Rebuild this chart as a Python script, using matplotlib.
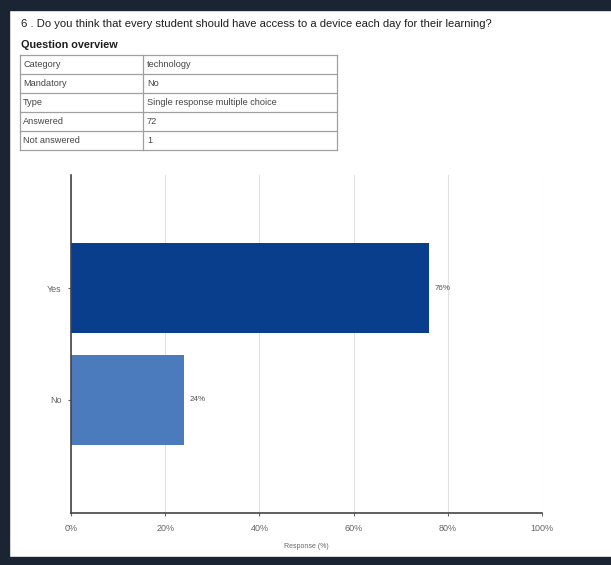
import matplotlib.pyplot as plt
from matplotlib.patches import Rectangle

plt.rcParams['font.family'] = ['Liberation Sans', 'DejaVu Sans']

TITLE = '6 . Do you think that every student should have access to a device each day for their learning?'
overview_keys = ['Category', 'Mandatory', 'Type', 'Answered', 'Not answered']
overview_vals = ['technology', 'No', 'Single response multiple choice', '72', '1']

answers = ['Yes', 'No']
percent = [76, 24]
bar_colors = ['#083e8b', '#4b7bbd']
x_ticks = [0, 20, 40, 60, 80, 100]

W, H = 611, 565
fig = plt.figure(figsize=(W / 100, H / 100), dpi=100)

def fx(px):
    return px / W

def fy(py):
    return 1 - py / H

# dark frame of the screenshot
border = '#1b2433'
fig.patches.append(Rectangle((0, fy(10)), 1, 10 / H, transform=fig.transFigure, color=border, zorder=0))
fig.patches.append(Rectangle((0, 0), fx(9), 1, transform=fig.transFigure, color=border, zorder=0))
fig.patches.append(Rectangle((0, 0), 1, 8 / H, transform=fig.transFigure, color=border, zorder=0))

fig.text(fx(21), fy(24), TITLE, fontsize=8.1, color='#1e1e1e', va='center')
fig.text(fx(21), fy(45), 'Question overview', fontsize=7.8, fontweight='bold', color='#1e1e1e', va='center')

# overview table, drawn by hand in a pixel-space axes
tab_ax = fig.add_axes([0, 0, 1, 1], zorder=1)
tab_ax.set_xlim(0, W)
tab_ax.set_ylim(H, 0)
tab_ax.axis('off')
tab_left, tab_split, tab_right = 20, 143, 337
tab_top, row_h = 55, 19
n_rows = len(overview_keys)
for i in range(n_rows + 1):
    y = tab_top + i * row_h
    tab_ax.plot([tab_left, tab_right], [y, y], color='#a0a0a0', lw=0.9)
for x in [tab_left, tab_split, tab_right]:
    tab_ax.plot([x, x], [tab_top, tab_top + n_rows * row_h], color='#a0a0a0', lw=0.9)
for i, (k, v) in enumerate(zip(overview_keys, overview_vals)):
    yc = tab_top + i * row_h + row_h / 2
    tab_ax.text(tab_left + 3, yc, k, fontsize=6.6, color='#444444', va='center')
    tab_ax.text(tab_split + 4, yc, v, fontsize=6.6, color='#444444', va='center')

# bar chart
ax = fig.add_axes([fx(71), fy(513), fx(542) - fx(71), (513 - 175) / H])
ypos = list(range(len(answers)))
ax.barh(ypos, percent, height=0.8, color=bar_colors, zorder=2)
for y, v in zip(ypos, percent):
    ax.text(v + 1.2, y, '%d%%' % v, fontsize=5.8, color='#555555', va='center', ha='left')

ax.set_xlim(0, 100)
ax.set_ylim(2.01, -1.01)
ax.set_yticks(ypos)
ax.set_yticklabels(answers)
ax.set_xticks(x_ticks)
ax.set_xticklabels(['%d%%' % t for t in x_ticks])
ax.tick_params(axis='both', labelsize=6.5, colors='#666666', length=2, pad=6)
ax.tick_params(axis='y', length=2, pad=5)
ax.grid(axis='x', color='#e2e2e2', linewidth=0.8, zorder=0)
ax.set_axisbelow(True)
for side in ['top', 'right']:
    ax.spines[side].set_visible(False)
for side in ['left', 'bottom']:
    ax.spines[side].set_color('#444444')
    ax.spines[side].set_linewidth(1.2)
ax.set_xlabel('Response (%)', fontsize=5, color='#666666', labelpad=7)

fig.savefig('out.png', dpi=100)
